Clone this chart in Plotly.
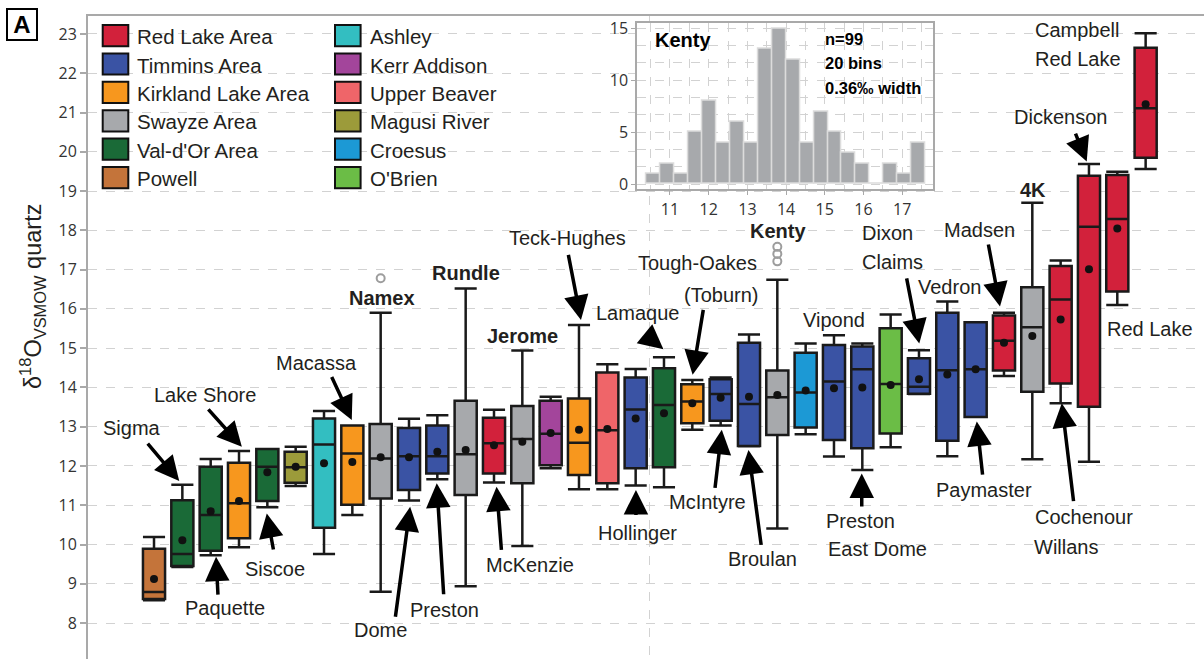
import plotly.graph_objects as go

# ---------------- data ----------------
deposits = ["Powell", "Sigma", "Paquette", "Lake Shore", "Siscoe", "Magusi River", "Ashley",
            "Macassa", "Namex", "Dome", "Preston", "Rundle", "McKenzie", "Jerome",
            "Kerr Addison", "Teck-Hughes", "Upper Beaver", "Hollinger", "Lamaque",
            "Tough-Oakes (Toburn)", "McIntyre", "Broulan", "Kenty", "Croesus", "Vipond",
            "Preston East Dome", "O'Brien", "Dixon Claims", "Vedron", "Paymaster", "Madsen",
            "4K", "Cochenour Willans", "Dickenson", "Red Lake", "Campbell Red Lake"]
groups = ["Powell", "Val-d'Or Area", "Val-d'Or Area", "Kirkland Lake Area", "Val-d'Or Area",
          "Magusi River", "Ashley", "Kirkland Lake Area", "Swayze Area", "Timmins Area",
          "Timmins Area", "Swayze Area", "Red Lake Area", "Swayze Area", "Kerr Addison",
          "Kirkland Lake Area", "Upper Beaver", "Timmins Area", "Val-d'Or Area",
          "Kirkland Lake Area", "Timmins Area", "Timmins Area", "Swayze Area", "Croesus",
          "Timmins Area", "Timmins Area", "O'Brien", "Timmins Area", "Timmins Area",
          "Timmins Area", "Red Lake Area", "Swayze Area", "Red Lake Area", "Red Lake Area",
          "Red Lake Area", "Red Lake Area"]
lower = [8.58, 9.43, 9.73, 9.93, 10.95, 11.49, 9.76, 10.75, 8.80, 11.12, 11.66, 8.94,
         11.58, 9.96, 11.94, 11.41, 11.41, 11.50, 11.46, 12.92, 13.03, 12.50, 10.41, 12.81,
         12.24, 11.90, 12.48, 13.83, 12.25, 13.25, 14.29, 12.17, 13.60, 12.11, 16.10, 19.56]
q1 = [8.61, 9.45, 9.84, 10.16, 11.11, 11.57, 10.43, 11.01, 11.17, 11.39, 11.81, 11.26,
      11.81, 11.56, 12.02, 11.77, 11.56, 11.94, 11.97, 13.09, 13.15, 12.51, 12.79, 12.98,
      12.66, 12.45, 12.83, 13.84, 12.64, 13.25, 14.43, 13.89, 14.10, 13.51, 16.44, 19.85]
median = [8.79, 9.76, 10.75, 11.05, 11.98, 11.97, 12.55, 12.32, 12.19, 12.25, 12.25, 12.30,
          12.58, 12.69, 12.82, 12.59, 12.91, 13.44, 13.55, 13.64, 13.83, 13.58, 13.75, 13.87,
          14.15, 14.46, 14.09, 14.02, 14.44, 14.46, 15.19, 15.53, 16.24, 18.09, 18.29, 21.11]
q3 = [9.89, 11.13, 11.98, 12.08, 12.43, 12.36, 13.21, 13.03, 13.07, 12.97, 13.03, 13.66,
      13.23, 13.53, 13.66, 13.72, 14.38, 14.25, 14.49, 14.08, 14.21, 15.14, 14.43, 14.88,
      15.08, 15.04, 15.51, 14.74, 15.90, 15.66, 15.83, 16.55, 17.09, 19.39, 19.41, 22.65]
upper = [10.19, 11.52, 12.18, 12.38, 12.43, 12.49, 13.40, 13.03, 15.90, 13.20, 13.29, 16.52,
         13.43, 14.94, 13.76, 15.59, 14.59, 14.47, 14.77, 14.19, 14.25, 15.35, 16.74, 15.12,
         15.33, 15.12, 15.86, 14.95, 16.19, 15.66, 15.90, 18.70, 17.23, 19.69, 19.49, 23.02]
means = [9.12, 10.11, 10.85, 11.11, 11.84, 11.98, 12.07, 12.10, 12.22, 12.22, 12.36, 12.41,
         12.53, 12.62, 12.84, 12.92, 12.94, 13.21, 13.34, 13.60, 13.74, 13.76, 13.81, 13.92,
         13.98, 14.00, 14.06, 14.21, 14.33, 14.46, 15.14, 15.31, 15.73, 17.01, 18.05, 21.21]
outlier_idx = [8, 22, 22, 22]
outlier_val = [16.78, 17.21, 17.40, 17.58]

legend_names = ["Red Lake Area", "Timmins Area", "Kirkland Lake Area", "Swayze Area",
                "Val-d'Or Area", "Powell", "Ashley", "Kerr Addison", "Upper Beaver",
                "Magusi River", "Croesus", "O'Brien"]
legend_colors = ["#d2213b", "#3a53a4", "#f7971e", "#a7a9ac", "#1a6a37", "#c4743a",
                 "#33bec1", "#a3459b", "#ef6569", "#9c9b3a", "#1c99d5", "#6bbd46"]
group_color = dict(zip(legend_names, legend_colors))

# Kenty histogram (inset)
kenty_counts = [1, 2, 1, 5, 8, 4, 6, 4, 13, 15, 12, 4, 7, 5, 3, 2, 0, 2, 1, 4]
kenty_bin_start = 10.40
kenty_bin_width = 0.36
inset_xticks = [11, 12, 13, 14, 15, 16, 17]
inset_yticks = [0, 5, 10, 15]

# ---------------- geometry helpers (layout only) ----------------
W, H = 1204, 659
ML, MR, MT, MB = 88, 0, 16, 0
PW, PH = W - ML - MR, H - MT - MB


def pxx(x):
    return (x - ML) / PW


def pxy(y):
    return (H - MB - y) / PH


FONT = "Liberation Sans, Arial, sans-serif"
TXT = "#231f20"

fig = go.Figure()

for i in range(len(deposits)):
    fig.add_trace(go.Box(
        x=[i], q1=[q1[i]], median=[median[i]], q3=[q3[i]],
        lowerfence=[lower[i]], upperfence=[upper[i]],
        fillcolor=group_color[groups[i]], line=dict(color="#1a1a1a", width=2.5),
        width=0.78, whiskerwidth=1, boxpoints=False, showlegend=False,
        name=deposits[i], hoverinfo="skip"))

fig.add_trace(go.Scatter(x=list(range(len(deposits))), y=means, mode="markers",
                         marker=dict(color="#111111", size=8), showlegend=False,
                         hoverinfo="skip"))
fig.add_trace(go.Scatter(x=outlier_idx, y=outlier_val, mode="markers",
                         marker=dict(symbol="circle-open", color="#9d9d9d", size=8,
                                     line=dict(width=2)),
                         showlegend=False, hoverinfo="skip"))

bin_centers = [kenty_bin_start + kenty_bin_width * (k + 0.5) for k in range(len(kenty_counts))]
fig.add_trace(go.Bar(x=bin_centers, y=kenty_counts, width=kenty_bin_width,
                     marker=dict(color="#a7a9ac", line=dict(color="#dcdcdc", width=1.5)),
                     xaxis="x2", yaxis="y2", showlegend=False, hoverinfo="skip"))

annotations = []

# y title
annotations.append(dict(xref="paper", yref="paper", x=pxx(32), y=pxy(297),
                        text="δ<sup>18</sup>O<sub>VSMOW</sub> quartz", textangle=-90,
                        showarrow=False, font=dict(family=FONT, size=23.5, color=TXT),
                        xanchor="center", yanchor="middle"))
# panel letter
annotations.append(dict(xref="paper", yref="paper", x=pxx(21.5), y=pxy(25),
                        text="<b>A</b>", showarrow=False,
                        font=dict(family=FONT, size=24, color="#000"),
                        bordercolor="#000", borderwidth=2, borderpad=1,
                        width=26, height=27, xanchor="center", yanchor="middle"))

# legend (drawn manually, two columns)
shapes = []
for k, (nm, col) in enumerate(zip(legend_names, legend_colors)):
    c, r = divmod(k, 6)
    sx0 = [102.7, 335.0][c]
    tx = [134.5, 368.0][c]
    cy = 35.6 + 28.4 * r
    shapes.append(dict(type="rect", xref="paper", yref="paper",
                       x0=pxx(sx0), x1=pxx(sx0 + 25.6), y0=pxy(cy + 10.6), y1=pxy(cy - 10.6),
                       fillcolor=col, line=dict(color="#111", width=2)))
    annotations.append(dict(xref="paper", yref="paper", x=pxx(tx), y=pxy(cy + 1),
                            text=nm, showarrow=False, xanchor="left", yanchor="middle",
                            font=dict(family=FONT, size=20.5, color=TXT)))

# deposit labels: (text, x index, y value, bold)
labels = [
    ("Sigma", -0.78, 12.97, False), ("Lake Shore", 1.80, 13.81, False),
    ("Macassa", 5.75, 14.61, False), ("Paquette", 2.51, 8.38, False),
    ("Siscoe", 4.27, 9.37, False), ("Dome", 8.01, 7.82, False),
    ("Preston", 10.26, 8.33, False), ("McKenzie", 13.28, 9.48, False),
    ("Hollinger", 17.07, 10.30, False), ("Teck-Hughes", 14.61, 17.81, False),
    ("Lamaque", 17.06, 15.89, False), ("Tough-Oakes", 19.20, 17.16, False),
    ("(Toburn)", 20.00, 16.35, False), ("McIntyre", 19.54, 11.09, False),
    ("Broulan", 21.46, 9.62, False), ("Kenty", 22.03, 17.99, True),
    ("Vipond", 24.01, 15.72, False), ("Preston", 24.95, 10.61, False),
    ("East Dome", 25.53, 9.88, False), ("Dixon", 25.89, 17.92, False),
    ("Claims", 26.08, 17.20, False), ("Vedron", 28.09, 16.56, False),
    ("Madsen", 29.13, 18.01, False), ("4K", 31.04, 19.03, True),
    ("Paymaster", 29.31, 11.39, False), ("Cochenour", 32.84, 10.69, False),
    ("Willans", 32.20, 9.94, False), ("Dickenson", 31.98, 20.88, False),
    ("Red Lake", 35.15, 15.48, False), ("Campbell", 32.59, 23.10, False),
    ("Red Lake", 32.60, 22.36, False), ("Namex", 8.04, 16.27, True),
    ("Rundle", 11.01, 16.92, True), ("Jerome", 13.01, 15.31, True),
]
for t, xi, yv, b in labels:
    annotations.append(dict(x=xi, y=yv, xref="x", yref="y",
                            text=f"<b>{t}</b>" if b else t, showarrow=False,
                            xanchor="center", yanchor="middle",
                            font=dict(family=FONT, size=20, color=TXT)))

# arrows: (head x index, head y value, tail dx px, tail dy px)
arrows = [
    (0.89, 11.62, -33, -39), (3.10, 12.49, -35, -39), (6.98, 13.17, -21, -45),
    (2.19, 9.69, 2, 40), (3.98, 10.79, 7, 38), (9.04, 10.96, -15, 112),
    (9.98, 11.56, 7, 113), (12.09, 11.47, 5, 65), (17.01, 11.39, 0, 27),
    (15.07, 15.72, -13, -67), (17.98, 14.97, -17, -14), (19.01, 14.32, 11, -67),
    (20.04, 12.92, -7, 60), (20.98, 12.41, 13, 97), (24.98, 11.81, 0, 35),
    (27.01, 15.12, -13, -67), (29.86, 16.06, -12, -64), (29.04, 13.13, 6, 55),
    (32.04, 13.60, 12, 100), (32.92, 19.75, -12, -30),
]
for hx, hy, dx, dy in arrows:
    annotations.append(dict(x=hx, y=hy, xref="x", yref="y", ax=dx, ay=dy,
                            axref="pixel", ayref="pixel", text=" ", showarrow=True,
                            arrowhead=2, arrowsize=1.4, arrowwidth=3.5, arrowcolor="#000",
                            standoff=0, startstandoff=0, font=dict(size=1)))

# inset annotations
annotations.append(dict(xref="paper", yref="paper", x=pxx(653), y=pxy(40),
                        text="<b>Kenty</b>", showarrow=False, xanchor="left",
                        yanchor="middle", font=dict(family=FONT, size=20, color="#000")))
for t, yy in [("n=99", 39), ("20 bins", 63.5), ("0.36‰ width", 88)]:
    annotations.append(dict(xref="paper", yref="paper", x=pxx(823), y=pxy(yy),
                            text=f"<b>{t}</b>", showarrow=False, xanchor="left",
                            yanchor="middle", font=dict(family=FONT, size=16.5, color="#000")))

GRID = "#d2d2d2"
AXC = "#a9a9a9"
TICKFONT = dict(family="Open Sans, sans-serif", size=16, color="#333")

fig.update_layout(
    width=W, height=H, margin=dict(l=ML, r=MR, t=MT, b=MB, autoexpand=False),
    plot_bgcolor="white", paper_bgcolor="white", boxmode="overlay", bargap=0,
    showlegend=False, annotations=annotations, shapes=shapes,
    xaxis=dict(domain=[0, 1], range=[-2.33, 37.06], side="top", showline=True,
               linecolor=AXC, linewidth=2, tickvals=[17.5], showticklabels=False,
               ticks="", showgrid=True, gridcolor=GRID, griddash="dash", gridwidth=1,
               zeroline=False, fixedrange=True),
    yaxis=dict(range=[7.085, 23.458], tick0=0, dtick=1, showline=True, linecolor=AXC,
               linewidth=2, ticks="outside", ticklen=6, tickcolor=AXC, tickwidth=1.5,
               tickfont=TICKFONT, showgrid=True, gridcolor=GRID, griddash="dash",
               gridwidth=1, zeroline=False, automargin=False),
    xaxis2=dict(domain=[pxx(637.3), pxx(932.7)], anchor="y2", range=[10.155, 17.79],
                tickvals=inset_xticks, showline=True, mirror=True, linecolor=AXC,
                linewidth=2, ticks="outside", ticklen=4, tickcolor=AXC, tickfont=TICKFONT,
                showgrid=True, gridcolor=GRID, griddash="dash", zeroline=False,
                minor=dict(dtick=0.5, showgrid=True, gridcolor=GRID, griddash="dash")),
    yaxis2=dict(domain=[pxy(189.3), pxy(22.7)], anchor="x2", range=[-0.51, 15.54],
                tickvals=inset_yticks, showline=True, mirror=True, linecolor=AXC,
                linewidth=2, ticks="outside", ticklen=4, tickcolor=AXC, tickfont=TICKFONT,
                showgrid=True, gridcolor=GRID, griddash="dash", zeroline=False,
                minor=dict(dtick=5 / 3, showgrid=True, gridcolor=GRID, griddash="dash")),
)

fig.write_html("out.html")
